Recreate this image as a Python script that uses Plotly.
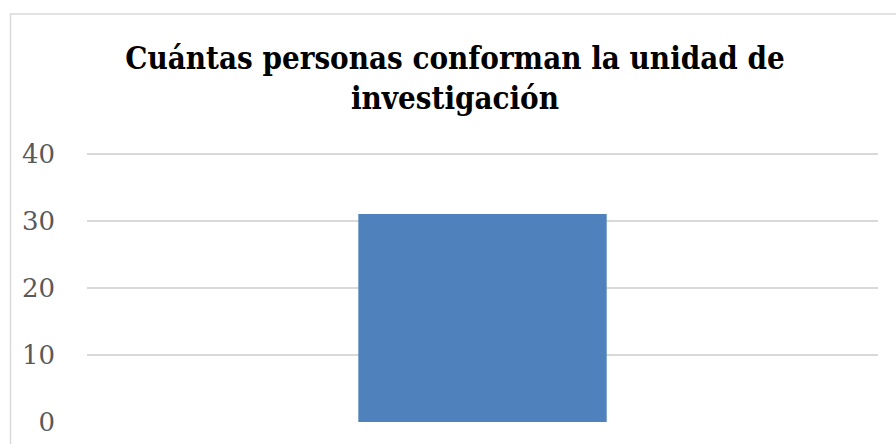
import plotly.graph_objects as go

categories = ["Unidad de investigación"]
values = [31]
tick_vals = [0, 10, 20, 30, 40]
title_text = "<b>Cuántas personas conforman la unidad de<br>investigación</b>"

TITLE_FONT = "DejaVu Serif Condensed, DejaVu Serif, serif"
TICK_FONT = "DejaVu Serif, serif"

fig = go.Figure()
fig.add_trace(go.Bar(x=categories, y=values, marker=dict(color="#4f81bd", line=dict(width=0)),
                     hoverinfo="y"))

W, H = 896, 444
y_top = 41
px_per_unit = (422 - 154) / 40
L, R, B = 87, 18, 22
T = H - B - y_top * px_per_unit
pw, ph = W - L - R, H - T - B

def px_x(p):
    return (p - L) / pw

def px_y(p):
    return (H - B - p) / ph

fig.update_layout(
    width=W, height=H,
    margin=dict(l=L, r=R, t=T, b=B, pad=0, autoexpand=False),
    paper_bgcolor="white", plot_bgcolor="white",
    bargap=0.686,
    showlegend=False,
    title=dict(text=title_text, x=px_x(455), xanchor="center", xref="paper",
               y=1 - 69 / H, yanchor="top", yref="container", automargin=False,
               font=dict(family=TITLE_FONT, size=31, color="black")),
    font=dict(family=TICK_FONT),
    xaxis=dict(showticklabels=False, showgrid=False, zeroline=False, showline=False, ticks="",
               automargin=False),
    yaxis=dict(range=[0, y_top], tickvals=tick_vals, showgrid=True, gridcolor="#d9d9d9", gridwidth=1.5,
               zeroline=False, showline=False, ticks="", automargin=False,
               tickfont=dict(family=TICK_FONT, size=26, color="#595959"),
               ticklabelstandoff=31),
    shapes=[dict(type="rect", xref="paper", yref="paper",
                 x0=px_x(10.5), x1=px_x(900), y0=px_y(14.5), y1=px_y(460),
                 line=dict(color="#d9d9d9", width=1.5), fillcolor="rgba(0,0,0,0)", layer="below")],
)

fig.write_html("out.html")
